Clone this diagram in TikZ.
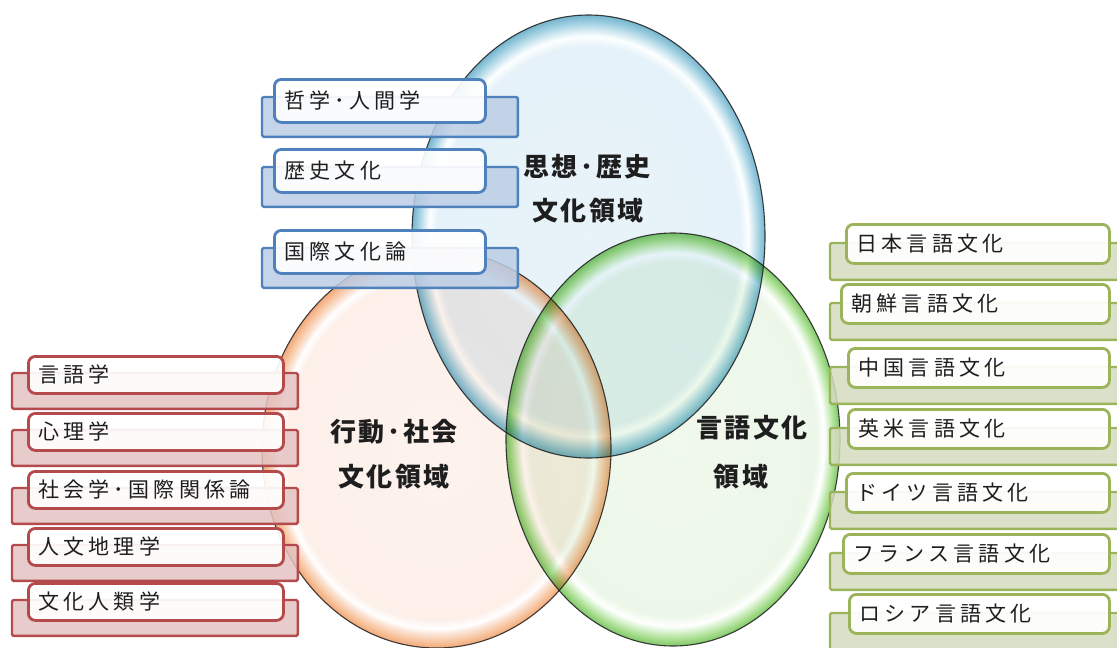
\documentclass[tikz,border=0pt]{standalone}
\usepackage{fontspec}
\newfontfamily\jplab[LetterSpace=20]{Noto Sans CJK JP}
\newfontfamily\jpttl[LetterSpace=10]{Noto Sans CJK JP}
\newcommand\nkg{･}
\pgfdeclarelayer{bg}
\pgfdeclarelayer{mid}
\pgfsetlayers{bg,mid,main}
\definecolor{bbord}{HTML}{4F81BD}
\definecolor{bback}{HTML}{BCCDE5}
\definecolor{rbord}{HTML}{B54A4C}
\definecolor{rback}{HTML}{E4C3C3}
\definecolor{gbord}{HTML}{9BB45A}
\definecolor{gback}{HTML}{D5DCC0}
\definecolor{ink}{HTML}{1E1E1E}
\pgfdeclareradialshading{blueball}{\pgfpoint{0bp}{0bp}}{rgb(0bp)=(0.91,0.955,0.975); rgb(21.5bp)=(0.90,0.95,0.975); rgb(22.6bp)=(0.99,1,1); rgb(23.2bp)=(0.86,0.93,0.96); rgb(24.2bp)=(0.62,0.81,0.88); rgb(25bp)=(0.46,0.71,0.81); rgb(50bp)=(0.46,0.71,0.81)}
\pgfdeclareradialshading{orangeball}{\pgfpoint{0bp}{0bp}}{rgb(0bp)=(0.995,0.95,0.93); rgb(21.5bp)=(0.99,0.94,0.915); rgb(22.6bp)=(1,1,1); rgb(23.2bp)=(0.985,0.90,0.85); rgb(24.2bp)=(0.97,0.77,0.62); rgb(25bp)=(0.95,0.66,0.48); rgb(50bp)=(0.95,0.66,0.48)}
\pgfdeclareradialshading{greenball}{\pgfpoint{0bp}{0bp}}{rgb(0bp)=(0.94,0.975,0.925); rgb(21.5bp)=(0.93,0.97,0.915); rgb(22.6bp)=(1,1,1); rgb(23.2bp)=(0.87,0.96,0.84); rgb(24.2bp)=(0.66,0.87,0.56); rgb(25bp)=(0.50,0.78,0.42); rgb(50bp)=(0.50,0.78,0.42)}
\tikzset{
  x=1pt, y=-1pt,
  ball/.style={blend mode=multiply},
  rim/.style={draw=ink, draw opacity=0.85, line width=1.1pt},
  ttl/.style={font=\jpttl\bfseries\fontsize{26}{30}\selectfont, text=ink, inner sep=0pt},
  labwhite/.style={draw=#1, fill=white, fill opacity=0.92, text opacity=1, line width=2.8pt,
    rounded corners=7pt, inner xsep=10pt, inner ysep=0pt, anchor=north west, align=left,
    font=\jplab\fontsize{21}{24}\selectfont, text=ink},
  labback/.style={draw=#1bord, fill=#1back, fill opacity=0.85, line width=2.4pt, rounded corners=1.5pt},
}
% name, left x, top y, text
\newcommand\bluelab[4]{%
  \node[labwhite=bbord, minimum width=211pt, minimum height=43pt, text width=191pt] (#1) at (#2,#3) {#4};
  \begin{pgfonlayer}{mid}
    \draw[labback=b] ([xshift=-11pt,yshift=-19pt]#1.north west) rectangle ([xshift=31pt,yshift=-13pt]#1.south east);
  \end{pgfonlayer}}
\newcommand\redlab[4]{%
  \node[labwhite=rbord, minimum width=255pt, minimum height=37pt, text width=235pt] (#1) at (#2,#3) {#4};
  \begin{pgfonlayer}{mid}
    \draw[labback=r] ([xshift=-15pt,yshift=-18pt]#1.north west) rectangle ([xshift=13pt,yshift=-14pt]#1.south east);
  \end{pgfonlayer}}
\newcommand\greenlab[4]{%
  \pgfmathsetmacro\gw{1108-#2}\pgfmathsetmacro\gtw{\gw-20}%
  \node[labwhite=gbord, minimum width=\gw pt, minimum height=39pt, text width=\gtw pt] (#1) at (#2,#3) {#4};
  \begin{pgfonlayer}{mid}
    \draw[labback=g] ([yshift=-20pt]#1.north west -| 830,0) rectangle ([xshift=30pt,yshift=-15pt]#1.south east);
  \end{pgfonlayer}}
\begin{document}
\begin{tikzpicture}
\useasboundingbox (0,0) rectangle (1117,648);
\begin{pgfonlayer}{bg}
  \fill[white] (0,0) rectangle (1117,648);
  \coordinate (cb) at (588.5,236.5);
  \coordinate (co) at (436.5,449);
  \coordinate (cg) at (673,439.5);
  \shade[ball, shading=blueball] (cb) ellipse [x radius=176.5, y radius=221.5];
  \shade[ball, shading=orangeball] (co) ellipse [x radius=174.5, y radius=199];
  \shade[ball, shading=greenball] (cg) ellipse [x radius=167, y radius=206.5];
  \draw[rim] (cb) ellipse [x radius=176.5, y radius=221.5];
  \draw[rim] (co) ellipse [x radius=174.5, y radius=199];
  \draw[rim] (cg) ellipse [x radius=167, y radius=206.5];
\end{pgfonlayer}

\node[ttl] (t1a) at (587,167) {思想\nkg 歴史};
\node[ttl] (t1b) at (588,211) {文化領域};
\node[ttl] (t2a) at (394,432) {行動\nkg 社会};
\node[ttl] (t2b) at (394,477) {文化領域};
\node[ttl] (t3a) at (752,428) {言語文化};
\node[ttl] (t3b) at (741,477) {領域};

\bluelab{b1}{273}{78}{哲学\nkg 人間学}
\bluelab{b2}{273}{148}{歴史文化}
\bluelab{b3}{273}{229}{国際文化論}

\redlab{r1}{27}{355}{言語学}
\redlab{r2}{27}{412}{心理学}
\redlab{r3}{27}{470}{社会学\nkg 国際関係論}
\redlab{r4}{27}{527}{人文地理学}
\redlab{r5}{27}{582}{文化人類学}

\greenlab{g1}{845}{223}{日本言語文化}
\greenlab{g2}{840}{283}{朝鮮言語文化}
\greenlab{g3}{847}{347}{中国言語文化}
\greenlab{g4}{847}{408}{英米言語文化}
\greenlab{g5}{845}{472}{ドイツ言語文化}
\greenlab{g6}{842}{533}{フランス言語文化}
\greenlab{g7}{848}{593}{ロシア言語文化}
\end{tikzpicture}
\end{document}
